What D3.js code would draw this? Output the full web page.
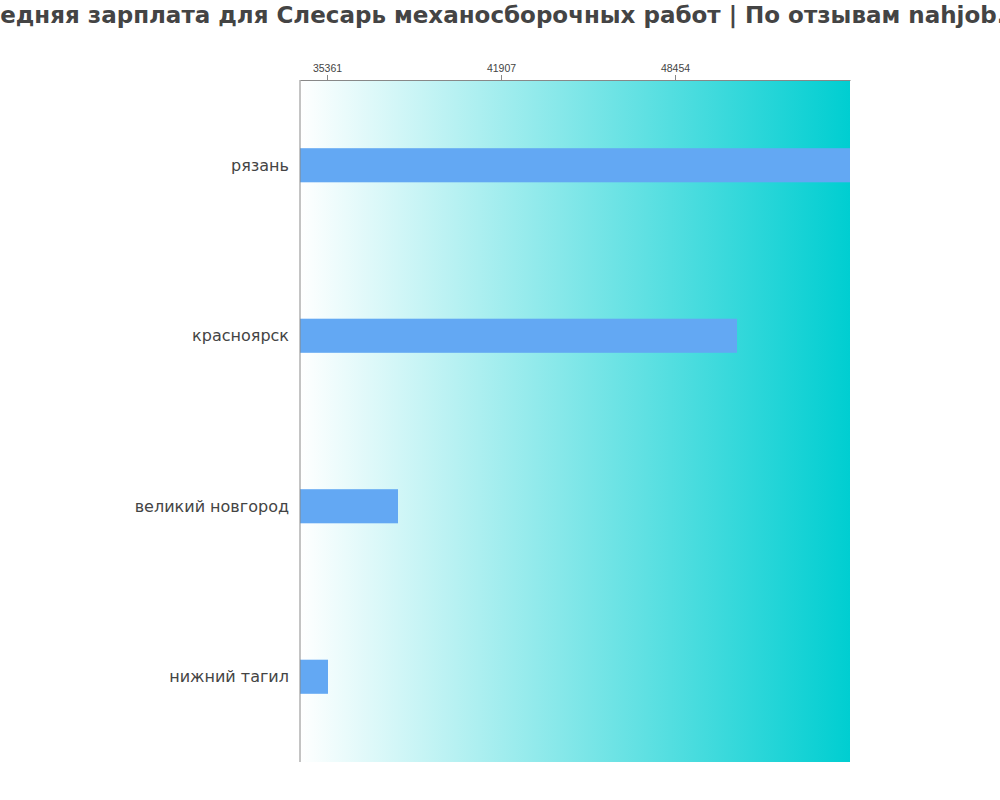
<!DOCTYPE html>
<html><head><meta charset="utf-8">
<script src="https://cdn.jsdelivr.net/npm/d3@7"></script>
<style>body{margin:0;background:#fff}svg{font-family:"DejaVu Sans",sans-serif}</style>
</head><body><svg id="c" width="1000" height="800"></svg>
<script>
const categories = ["рязань","красноярск","великий новгород","нижний тагил"];
const values = [55038, 50787, 38032, 35398];
const tickValues = [35361, 41907, 48454];
const title = "Средняя зарплата для Слесарь механосборочных работ | По отзывам nahjob.ru";

const svg = d3.select("#c");
const L=300,R=850,T=80,B=762;
const x = d3.scaleLinear().domain([34345,55038]).range([L,R]);
const y = d3.scaleBand().domain(categories).range([T,B]).paddingInner(0.8).paddingOuter(0.4);

const grad = svg.append("defs").append("linearGradient").attr("id","g");
grad.append("stop").attr("offset","0%").attr("stop-color","#ffffff");
grad.append("stop").attr("offset","100%").attr("stop-color","#00CED1");
svg.append("rect").attr("x",L).attr("y",T).attr("width",R-L).attr("height",B-T).attr("fill","url(#g)");

svg.selectAll(".bar").data(values).join("rect")
  .attr("x",L).attr("y",(d,i)=>y(categories[i])).attr("height",y.bandwidth())
  .attr("width",d=>x(d)-L).attr("fill","#63A8F3");

const ax = svg.append("g").attr("transform",`translate(0,${T})`)
  .call(d3.axisTop(x).tickValues(tickValues).tickSize(5).tickSizeOuter(0).tickFormat(d3.format("d")));
ax.select(".domain").attr("stroke","#888");
ax.selectAll(".tick line").attr("stroke","#888");
ax.selectAll("text").attr("fill","#444").style("font-size","10.5px");

svg.append("line").attr("x1",L).attr("x2",L).attr("y1",T).attr("y2",B).attr("stroke","#888");

svg.selectAll(".lab").data(categories).join("text")
  .attr("x",289).attr("y",d=>y(d)+y.bandwidth()/2).attr("dy","0.35em")
  .attr("text-anchor","end").attr("fill","#444").style("font-size","16px").text(d=>d);

svg.append("text").attr("x",500).attr("y",23).attr("text-anchor","middle")
  .attr("fill","#444").style("font-size","23px").style("font-weight","bold").text(title);
</script></body></html>
